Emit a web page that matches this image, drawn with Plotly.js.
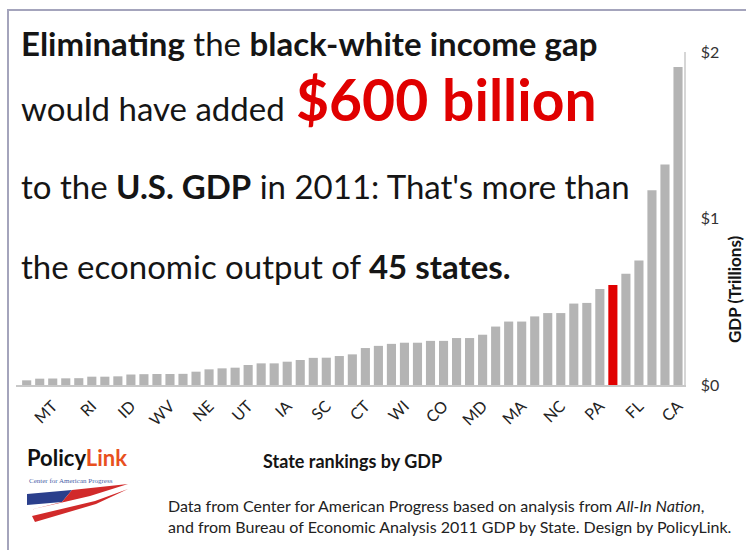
<!DOCTYPE html>
<html>
<head>
<meta charset="utf-8">
<script src="https://cdn.plot.ly/plotly-3.0.1.min.js"></script>
<style>html,body{margin:0;padding:0;background:#fff;}#chart{width:746px;height:550px;}</style>
</head>
<body>
<div id="chart"></div>
<script>
// ---- data ----
const states = ["VT","WY","MT","SD","ND","RI","AK","ME","ID","DE","NH","WV","HI","NM","NE","MS","AR","UT","NV","KS","IA","OK","KY","SC","AL","OR","CT","LA","MO","WI","AZ","TN","CO","IN","MN","MD","WA","MI","MA","GA","VA","NC","OH","NJ","PA","Gap","IL","FL","NY","TX","CA"];
const gdpTrillions = [0.028,0.038,0.039,0.040,0.041,0.050,0.050,0.052,0.063,0.065,0.066,0.066,0.067,0.080,0.094,0.100,0.104,0.120,0.130,0.130,0.140,0.150,0.163,0.164,0.174,0.184,0.222,0.235,0.247,0.254,0.254,0.265,0.265,0.282,0.282,0.302,0.351,0.381,0.381,0.412,0.432,0.432,0.489,0.493,0.577,0.600,0.668,0.748,1.170,1.325,1.910];
const labeledStates = ["MT","RI","ID","WV","NE","UT","IA","SC","CT","WI","CO","MD","MA","NC","PA","FL","CA"];
const yTickVals = [0,1,2];
const yTickText = ["$0","$1","$2"];
const highlight = "Gap";

// ---- layout helpers ----
const W=746,H=550,L=16,R=62,T=52,B=165;
const pw=W-L-R, ph=H-T-B;
const px = x => (x-L)/pw;
const py = y => (H-B-y)/ph;
const FONT = "Lato, 'Open Sans', sans-serif";
const GRAY="#b4b4b4", RED="#e00000";

const trace = {
  type:"bar",
  x: states,
  y: gdpTrillions,
  marker:{color: states.map(s => s===highlight ? RED : GRAY), line:{width:0}},
  hoverinfo:"x+y"
};

function ann(text, x, y, opts){
  return Object.assign({text:text, xref:"paper", yref:"paper", x:px(x), y:py(y), xanchor:"left", yanchor:"middle", showarrow:false, align:"left",
    font:{family:FONT, size:33, color:"#151515"}}, opts||{});
}

function pathPx(pts){
  return "M " + pts.map(p => px(p[0]) + "," + py(p[1])).join(" L ") + " Z";
}

const annotations = [
  ann("<b>Eliminating</b> the <b>black-white income gap</b>", 19, 43),
  ann("would have added", 19, 108),
  ann("<b>$600 billion</b>", 294, 99, {font:{family:FONT, size:57, color:RED}}),
  ann("to the <b>U.S. GDP</b> in 2011: That's more than", 19, 186),
  ann("the economic output of <b>45 states.</b>", 19, 266),
  ann("<b>State rankings by GDP</b>", 352, 461, {xanchor:"center", font:{family:FONT, size:18, color:"#151515"}}),
  ann("<b>GDP (Trillions)</b>", 734, 290, {xanchor:"center", textangle:-90, font:{family:FONT, size:17, color:"#151515"}}),
  ann("<b>Policy<span style='color:#e8501e'>Link</span></b>", 25, 457, {font:{family:FONT, size:22, color:"#111"}}),
  ann("Center for American Progress", 27, 481, {font:{family:"'Liberation Serif', serif", size:7, color:"#4a63a8"}}),
  ann("Data from Center for American Progress based on analysis from <i>All-In Nation</i>,<br>and from Bureau of Economic Analysis 2011 GDP by State. Design by PolicyLink.", 166, 516,
      {font:{family:FONT, size:16, color:"#222"}})
];

const shapes = [
  // frame
  {type:"line", xref:"paper", yref:"paper", x0:px(8), x1:px(8), y0:py(9), y1:py(560), line:{color:"#a4a4bc", width:2}},
  {type:"line", xref:"paper", yref:"paper", x0:px(7), x1:px(760), y0:py(10), y1:py(10), line:{color:"#a4a4bc", width:2}},
  // CAP flag logo
  {type:"path", xref:"paper", yref:"paper", path:pathPx([[27,494],[72,490],[62,502],[27,505]]), fillcolor:"#2b3f8c", line:{width:0}},
  {type:"path", xref:"paper", yref:"paper", path:pathPx([[62,502],[72,490],[128,484],[90,496],[30,510]]), fillcolor:"#d12a2a", line:{width:0}},
  {type:"path", xref:"paper", yref:"paper", path:pathPx([[30,510],[90,497],[128,486],[95,500],[32,516]]), fillcolor:"#ffffff", line:{width:0}},
  {type:"path", xref:"paper", yref:"paper", path:pathPx([[32,516],[95,501],[128,489],[96,504],[35,522]]), fillcolor:"#d12a2a", line:{width:0}}
];

const layout = {
  width:W, height:H,
  margin:{l:L, r:R, t:T, b:B, pad:0},
  paper_bgcolor:"#fff", plot_bgcolor:"#fff",
  showlegend:false,
  bargap:0.3,
  font:{family:FONT, color:"#222"},
  xaxis:{type:"category", range:[-0.82, 50.46], tickmode:"array", tickvals:labeledStates, ticktext:labeledStates,
    tickangle:-45, tickfont:{family:FONT, size:16, color:"#222"}, showline:true, linecolor:"#c8c8c8", linewidth:1.5,
    ticks:"outside", ticklen:4, tickcolor:"rgba(0,0,0,0)", showgrid:false, zeroline:false, fixedrange:true},
  yaxis:{side:"right", range:[0,2], tickmode:"array", tickvals:yTickVals, ticktext:yTickText,
    tickfont:{family:FONT, size:16, color:"#333"}, showline:true, linecolor:"#d6d6d6", linewidth:1.5,
    ticks:"outside", ticklen:12, tickcolor:"rgba(0,0,0,0)", showgrid:false, zeroline:false, fixedrange:true},
  annotations:annotations,
  shapes:shapes
};

Plotly.newPlot("chart", [trace], layout, {displayModeBar:false, staticPlot:true});
</script>
</body>
</html>
